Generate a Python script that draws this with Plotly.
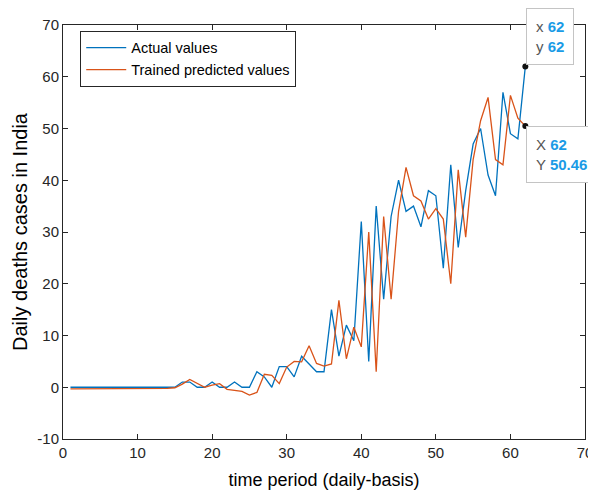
import plotly.graph_objects as go

days = list(range(1, 63))
actual = [0]*15 + [1, 1, 0, 0, 1, 0, 0, 1, 0, 0, 3, 2, 0, 4, 4, 2, 6, 4.5, 3, 3,
                   15, 6, 12, 9, 32, 5, 35, 17, 33, 40, 34, 35, 31, 38, 37, 23, 43, 27, 38,
                   47, 50, 41, 37, 57, 49, 48, 62]
predicted = [-0.3]*13 + [-0.2, -0.1, 0.6, 1.5, 0.7, 0, 0.4, 0.7, -0.4, -0.6, -0.8, -1.5, -1.0,
                         2.5, 2.3, 0.7, 3.9, 5.0, 4.9, 8, 4.6, 4.1, 4.5, 16.8, 5.5, 11.6, 7.8,
                         30, 3, 33, 17, 34, 42.5, 37, 36, 32.5, 34.5, 32.5, 20, 42, 29, 44,
                         51.5, 56, 44, 43, 56.4, 52, 50.46]
series_names = ["Actual values", "Trained predicted values"]
x_ticks = [0, 10, 20, 30, 40, 50, 60, 70]
y_ticks = [-10, 0, 10, 20, 30, 40, 50, 60, 70]

BLUE = "#0072BD"
ORANGE = "#D95319"
TIPVAL = "#1a9be6"
FONT = "Liberation Sans, Arial"

fig = go.Figure()
fig.add_trace(go.Scatter(x=days, y=actual, mode="lines", name=series_names[0],
                         line=dict(color=BLUE, width=1.3)))
fig.add_trace(go.Scatter(x=days, y=predicted, mode="lines", name=series_names[1],
                         line=dict(color=ORANGE, width=1.3)))
fig.add_trace(go.Scatter(x=[days[-1], days[-1]], y=[actual[-1], predicted[-1]], mode="markers",
                         marker=dict(color="#111", size=6), showlegend=False, cliponaxis=False))

def tip(x, y, lx, ly, yv, anchor):
    return dict(x=x, y=y, xref="x", yref="y", showarrow=False,
                text=(f"<span style='color:#555'>{lx}</span> <span style='color:{TIPVAL}'><b>{x:g}</b></span><br>"
                      f"<span style='color:#555'>{ly}</span> <span style='color:{TIPVAL}'><b>{yv}</b></span>"),
                xanchor="left", yanchor=anchor, align="left", xshift=1,
                yshift=(1 if anchor == "bottom" else 0),
                bgcolor="white", bordercolor="#c4c4c4", borderwidth=1, borderpad=9,
                font=dict(family=FONT, size=15))

# page body has an 8px margin, so the figure is sized to fit the 596x492 window
fig.update_layout(
    width=588, height=484,
    margin=dict(l=55, r=11, t=17, b=53),
    paper_bgcolor="white", plot_bgcolor="white",
    font=dict(family=FONT, color="#262626", size=13),
    legend=dict(x=0.033, y=0.986, xanchor="left", yanchor="top",
                bgcolor="white", bordercolor="#262626", borderwidth=1,
                font=dict(size=14.5, color="#000"), tracegroupgap=0, itemwidth=40),
    annotations=[
        tip(days[-1], actual[-1], "x", "y", f"{actual[-1]:g}", "bottom"),
        tip(days[-1], predicted[-1], "X", "Y", f"{predicted[-1]:.2f}", "top"),
    ],
    showlegend=True,
)
fig.update_xaxes(range=[0, 70], tickvals=x_ticks, ticktext=[str(v) for v in x_ticks],
                 ticks="inside", ticklen=5, tickcolor="#262626",
                 showline=True, linecolor="#262626", linewidth=1, mirror="ticks",
                 showgrid=False, zeroline=False, automargin=False,
                 title=dict(text="time period (daily-basis)", font=dict(size=18, color="#000"), standoff=13),
                 tickfont=dict(size=15))
fig.update_yaxes(range=[-10, 70], tickvals=y_ticks, ticktext=[str(v) for v in y_ticks],
                 ticks="inside", ticklen=5, tickcolor="#262626",
                 showline=True, linecolor="#262626", linewidth=1, mirror="ticks",
                 showgrid=False, zeroline=False, automargin=False,
                 title=dict(text="Daily deaths cases in India", font=dict(size=20, color="#000"), standoff=4),
                 tickfont=dict(size=15))

fig.write_html("out.html")
